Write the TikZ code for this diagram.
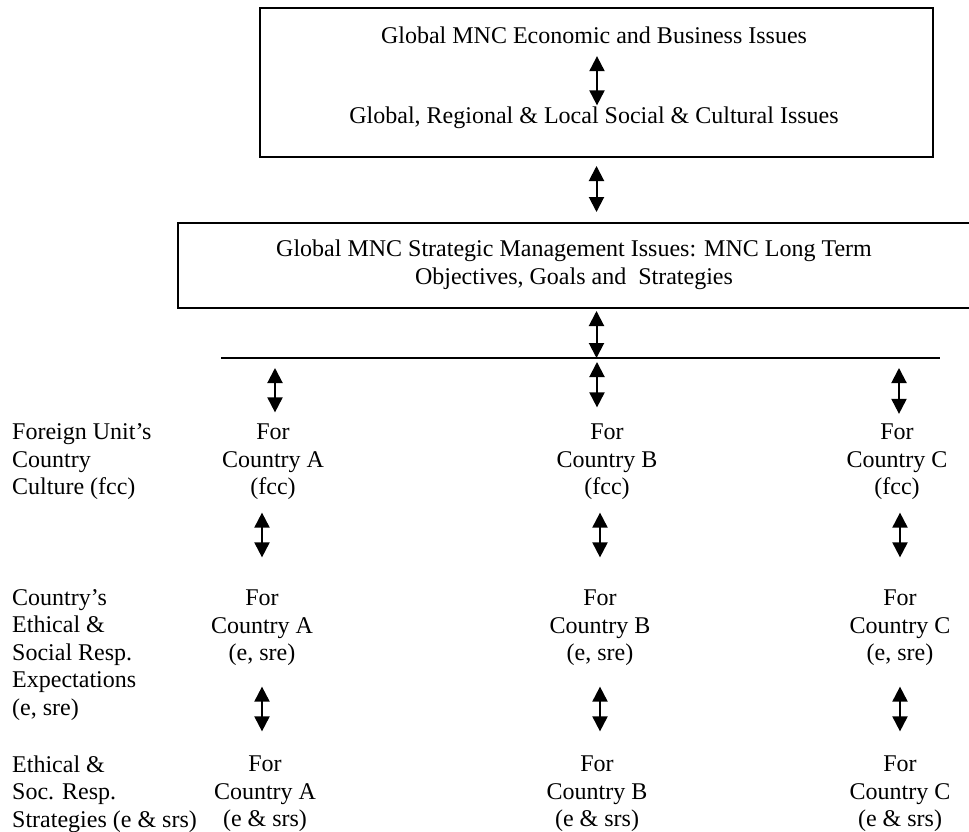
\documentclass[tikz,border=0pt]{standalone}
\usepackage{fontspec}
\setmainfont{Liberation Serif}
\usetikzlibrary{arrows.meta}

\tikzset{
  dbl/.style={line width=2pt, {Triangle[width=15pt,length=15pt]}-{Triangle[width=15pt,length=15pt]}},
  txt/.style={inner sep=0pt, font=\fontsize{24pt}{27.5pt}\selectfont},
  cell/.style={txt, align=center},
  lbl/.style={txt, align=left, anchor=west},
  frame/.style={draw, line width=2pt, inner sep=0pt},
}

\begin{document}
\begin{tikzpicture}[x=1pt,y=-1pt]
\useasboundingbox (0,0) rectangle (969,832);
%% global issues box
\node[frame, minimum width=673pt, minimum height=149pt] (topbox) at (596.5,82.5) {};
\node[txt] (econ) at (594,35.5) {Global MNC Economic and Business Issues};
\node[txt] (social) at (594,117.5) {Global, Regional \& Local Social \& Cultural Issues};
\draw[dbl, shorten <=12pt, shorten >=1pt] ([xshift=3pt]econ.south) -- ([xshift=3pt]econ.south |- social.north);
%
%% strategic management box
\node[frame, minimum width=794pt, minimum height=85pt] (stratbox) at (575,265.5) {};
\node[cell] (strat) at (574,265) {Global MNC Strategic Management Issues: MNC Long Term\\Objectives, Goals and~ Strategies};
\draw[dbl, shorten <=8pt, shorten >=10pt] (topbox.south) -- (topbox.south |- stratbox.north);
%
% dividing line
\coordinate (barL) at (221,358);
\coordinate (barR) at (940,358);
\draw[line width=1.2pt] (barL) -- (barR);
\draw[dbl, shorten <=2pt] (stratbox.south -| topbox.south) -- (topbox.south |- barL);
%
% row labels
\node[lbl] (fcclbl) at (12,462) {Foreign Unit’s\\Country\\Culture (fcc)};
\node[lbl] (srelbl) at (12,655) {Country’s\\Ethical \&\\Social Resp.\\Expectations\\(e, sre)};
\node[lbl] (srslbl) at (12,794) {Ethical \&\\Soc. Resp.\\Strategies (e \& srs)};
%
% country columns
\foreach \col/\xa/\xb/\xc in {A/273/262/265, B/607/600/597, C/897/900/900}
  {
  \node[cell] (fcc\col) at (\xa,462) {For\\Country \col\\(fcc)};
  \node[cell] (sre\col) at (\xb,628) {For\\Country \col\\(e, sre)};
  \node[cell] (srs\col) at (\xc,794) {For\\Country \col\\(e \& srs)};
  }
%
\foreach \col/\x in {A/275, B/597, C/899}
  \coordinate (bar\col) at (\x,358);
\foreach \col/\s/\e in {A/10pt/11.5pt, B/4pt/16.5pt, C/10pt/10pt}
  \draw[dbl, shorten <=\s, shorten >=\e] (bar\col) -- (bar\col |- fcc\col.north);
%
\foreach \col in {A,B,C}
  {
  \draw[dbl, shorten <=12.5pt, shorten >=32.5pt] (sre\col.north |- fcc\col.south) -- (sre\col.north);
  \draw[dbl, shorten <=20.5pt, shorten >=24.5pt] (sre\col.south) -- (sre\col.south |- srs\col.north);
  }
\end{tikzpicture}
\end{document}
